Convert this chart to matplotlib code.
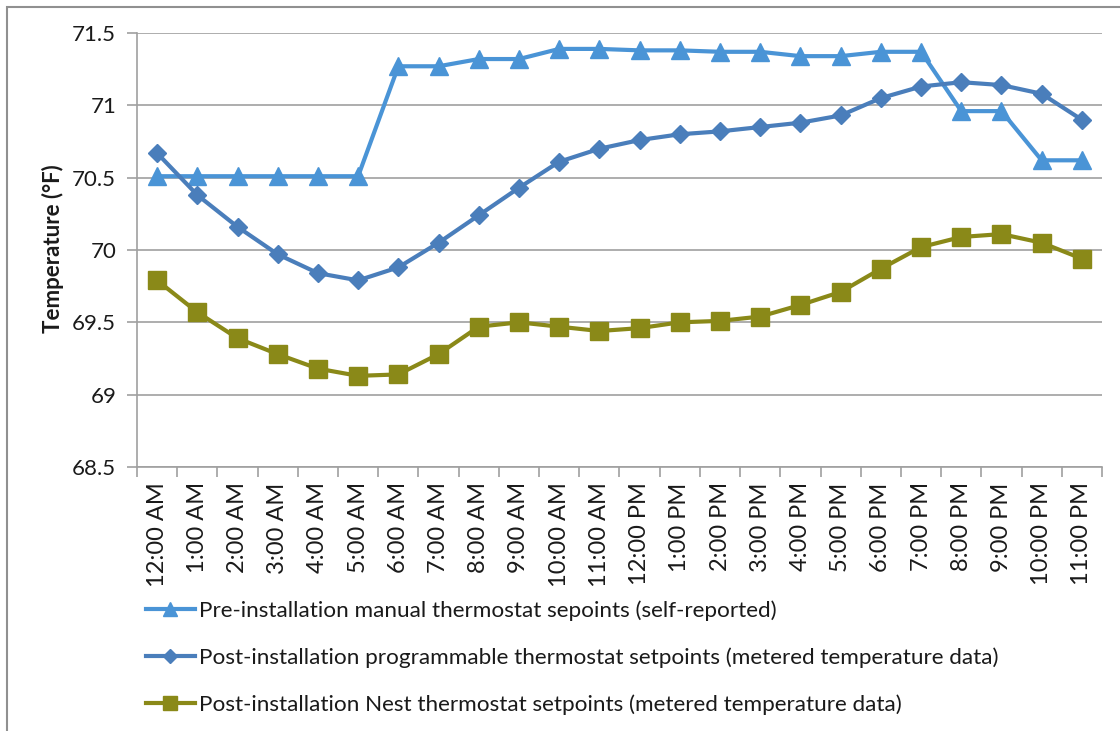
import numpy as np
import matplotlib.pyplot as plt
from matplotlib.patches import Rectangle

hours = ['12:00 AM', '1:00 AM', '2:00 AM', '3:00 AM', '4:00 AM', '5:00 AM',
         '6:00 AM', '7:00 AM', '8:00 AM', '9:00 AM', '10:00 AM', '11:00 AM',
         '12:00 PM', '1:00 PM', '2:00 PM', '3:00 PM', '4:00 PM', '5:00 PM',
         '6:00 PM', '7:00 PM', '8:00 PM', '9:00 PM', '10:00 PM', '11:00 PM']

pre_manual = [70.51, 70.51, 70.51, 70.51, 70.51, 70.51,
              71.27, 71.27, 71.32, 71.32, 71.39, 71.39,
              71.38, 71.38, 71.37, 71.37, 71.34, 71.34,
              71.37, 71.37, 70.96, 70.96, 70.62, 70.62]

post_programmable = [70.67, 70.38, 70.16, 69.97, 69.84, 69.79,
                     69.88, 70.05, 70.24, 70.43, 70.61, 70.70,
                     70.76, 70.80, 70.82, 70.85, 70.88, 70.93,
                     71.05, 71.13, 71.16, 71.14, 71.08, 70.90]

post_nest = [69.79, 69.57, 69.39, 69.28, 69.18, 69.13,
             69.14, 69.28, 69.47, 69.50, 69.47, 69.44,
             69.46, 69.50, 69.51, 69.54, 69.62, 69.71,
             69.87, 70.02, 70.09, 70.11, 70.05, 69.94]

labels = ['Pre-installation manual thermostat sepoints (self-reported)',
          'Post-installation programmable thermostat setpoints (metered temperature data)',
          'Post-installation Nest thermostat setpoints (metered temperature data)']

plt.rcParams['font.family'] = ['Lato', 'DejaVu Sans']
plt.rcParams['text.color'] = '#1a1a1a'

fig = plt.figure(figsize=(11.2, 7.31), dpi=100)
ax = fig.add_axes([137/1120, 1-467/731, (1102-137)/1120, (467-33)/731])

x = np.arange(len(hours))
l1, = ax.plot(x, pre_manual, color='#4a94d6', lw=3, marker='^', ms=13, zorder=3)
l2, = ax.plot(x, post_programmable, color='#4a7ebb', lw=3, marker='D', ms=9, zorder=4)
l3, = ax.plot(x, post_nest, color='#8a8918', lw=3, marker='s', ms=13, zorder=5)

ax.set_xlim(-0.5, 23.5)
ax.set_ylim(68.5, 71.5)
ax.set_yticks(np.arange(68.5, 71.51, 0.5))
ax.set_yticklabels(['68.5', '69', '69.5', '70', '70.5', '71', '71.5'],
                   fontsize=16, color='#1a1a1a')
ax.yaxis.grid(True, color='#a0a0a0', lw=1.2)
ax.set_axisbelow(True)

ax.set_xticks(x)
ax.set_xticklabels(hours, rotation=90, fontsize=17, color='#1a1a1a')
ax.set_xticks(np.arange(-0.5, 24, 1), minor=True)
ax.tick_params(axis='x', which='major', length=0, pad=11)
ax.tick_params(axis='x', which='minor', length=7, color='#a0a0a0', width=1.2)
ax.tick_params(axis='y', length=7, color='#a0a0a0', width=1.2, pad=8)

for s in ['top', 'right']:
    ax.spines[s].set_visible(False)
for s in ['left', 'bottom']:
    ax.spines[s].set_color('#a0a0a0')
    ax.spines[s].set_linewidth(1.2)

fig.text(53/1120, 1-249/731, 'Temperature (°F)', rotation=90, fontsize=16,
         fontweight='bold', ha='center', va='center')

leg = fig.legend([l1, l2, l3], labels, loc='upper left',
                 bbox_to_anchor=(126/1120, 1-580/731), frameon=False,
                 fontsize=16.2, handlelength=2.15, handletextpad=0.2,
                 labelspacing=1.17, markerscale=0.75)

fig.patches.append(Rectangle((7/1120, -0.1), 1.2, 1-7/731+0.1,
                             transform=fig.transFigure, fill=False,
                             edgecolor='#909090', lw=1.5))

fig.savefig('out.png', dpi=100)
